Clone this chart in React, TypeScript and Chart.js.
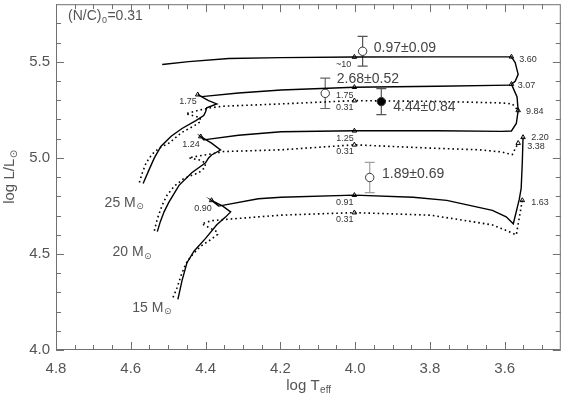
import React, { useEffect, useRef } from "react";
import { Chart, registerables } from "chart.js";
Chart.register(...registerables);

// ---- tracks (log Teff, log L/Lsun) ----
const topX = [4.516, 4.445, 4.338, 4.198, 4.002, 3.781, 3.609, 3.582, 3.572, 3.564, 3.572, 3.582];
const topY = [5.486, 5.501, 5.517, 5.522, 5.525, 5.526, 5.526, 5.526, 5.496, 5.435, 5.399, 5.384];

const s25X = [4.567, 4.551, 4.537, 4.519, 4.492, 4.463, 4.426, 4.405, 4.400, 4.397, 4.370, 4.392, 4.421, 4.410, 4.312, 4.198, 4.002, 3.781, 3.585];
const s25Y = [4.867, 4.939, 5.000, 5.061, 5.113, 5.153, 5.194, 5.220, 5.240, 5.261, 5.281, 5.298, 5.329, 5.319, 5.338, 5.353, 5.368, 5.373, 5.379];

const d25X = [4.577, 4.569, 4.559, 4.543, 4.524, 4.498, 4.463, 4.429, 4.413, 4.415, 4.453, 4.418, 4.386, 4.352, 4.198, 4.002, 3.781, 3.609, 3.580, 3.564];
const d25Y = [4.872, 4.923, 4.974, 5.020, 5.051, 5.077, 5.133, 5.169, 5.189, 5.210, 5.230, 5.248, 5.261, 5.269, 5.281, 5.298, 5.294, 5.286, 5.281, 5.247];

const s20X = [4.529, 4.521, 4.511, 4.498, 4.471, 4.437, 4.400, 4.392, 4.384, 4.360, 4.384, 4.413, 4.405, 4.312, 4.198, 4.002, 3.781, 3.609, 3.582, 3.569, 3.564, 3.567, 3.582];
const s20Y = [4.616, 4.668, 4.719, 4.770, 4.857, 4.923, 4.974, 5.000, 5.015, 5.041, 5.077, 5.111, 5.094, 5.118, 5.136, 5.141, 5.141, 5.138, 5.140, 5.179, 5.246, 5.317, 5.384];

const d20X = [4.537, 4.529, 4.516, 4.503, 4.484, 4.458, 4.418, 4.402, 4.400, 4.418, 4.445, 4.418, 4.386, 4.352, 4.198, 4.002, 3.800, 3.667, 3.609, 3.580, 3.564];
const d20Y = [4.621, 4.683, 4.754, 4.806, 4.852, 4.893, 4.923, 4.949, 4.974, 4.990, 5.000, 5.010, 5.020, 5.033, 5.042, 5.068, 5.051, 5.042, 5.031, 5.017, 5.077];

const s15X = [4.474, 4.463, 4.450, 4.431, 4.400, 4.370, 4.346, 4.333, 4.354, 4.384, 4.365, 4.259, 4.198, 4.002, 3.845, 3.755, 3.694, 3.633, 3.596, 3.577, 3.561, 3.556, 3.553, 3.551];
const s15Y = [4.263, 4.361, 4.453, 4.514, 4.581, 4.652, 4.693, 4.719, 4.749, 4.779, 4.749, 4.787, 4.795, 4.806, 4.795, 4.779, 4.753, 4.727, 4.693, 4.657, 4.785, 4.841, 4.974, 5.107];

const d15X = [4.487, 4.476, 4.466, 4.453, 4.439, 4.413, 4.386, 4.368, 4.370, 4.410, 4.384, 4.357, 4.259, 4.198, 4.002, 3.800, 3.712, 3.633, 3.588, 3.569, 3.553];
const d15Y = [4.274, 4.325, 4.386, 4.448, 4.488, 4.540, 4.575, 4.601, 4.616, 4.657, 4.673, 4.678, 4.693, 4.702, 4.715, 4.702, 4.676, 4.651, 4.616, 4.599, 4.779];

// ---- triangle markers ----
const triX = [4.002, 4.002, 4.002, 4.002, 4.002, 4.002, 4.002, 3.582, 3.582, 3.564, 3.551, 3.564, 3.553, 4.421, 4.413, 4.384];
const triY = [5.525, 5.368, 5.298, 5.141, 5.068, 4.806, 4.715, 5.526, 5.384, 5.247, 5.107, 5.077, 4.779, 5.329, 5.111, 4.779];

// ---- observed stars ----
const obsX = [3.980, 4.080, 3.930, 3.961];
const obsY = [5.555, 5.336, 5.293, 4.898];
const obsErr = [0.077, 0.079, 0.068, 0.079];
const obsFilled = [false, false, true, false];
const obsBarColor = ["#555", "#666", "#555", "#a0a0a0"];
const obsLabel = ["0.97\u00b10.09", "2.68\u00b10.52", "4.44\u00b10.84", "1.89\u00b10.69"];
const obsLabelX = [3.950, 4.049, 3.898, 3.928];
const obsLabelY = [5.570, 5.409, 5.264, 4.915];

// ---- small N/C labels ----
const midText = ["~10", "1.75", "0.31", "1.25", "0.31", "0.91", "0.31", "1.75", "1.24", "0.90"];
const midX = [4.031, 4.028, 4.028, 4.027, 4.027, 4.028, 4.028, 4.447, 4.439, 4.407];
const midY = [5.486, 5.327, 5.261, 5.100, 5.031, 4.770, 4.680, 5.292, 5.072, 4.739];
const endText = ["3.60", "3.07", "9.84", "2.20", "3.38", "1.63"];
const endX = [3.561, 3.565, 3.543, 3.529, 3.540, 3.529];
const endY = [5.514, 5.375, 5.243, 5.104, 5.061, 4.770];

// ---- mass labels ----
const massText = ["25 M", "20 M", "15 M"];
const massX = [4.670, 4.649, 4.596];
const massY = [4.765, 4.509, 4.220];

// ---- axes ----
const xMin = 3.45, xMax = 4.8, yMin = 4.0, yMax = 5.8;
const xMajor = [4.8, 4.6, 4.4, 4.2, 4.0, 3.8, 3.6];
const xMajorLabels = ["4.8", "4.6", "4.4", "4.2", "4.0", "3.8", "3.6"];
const xMinor = [4.75, 4.7, 4.65, 4.55, 4.5, 4.45, 4.35, 4.3, 4.25, 4.15, 4.1, 4.05, 3.95, 3.9, 3.85, 3.75, 3.7, 3.65, 3.55, 3.5];
const yMajor = [4.0, 4.5, 5.0, 5.5];
const yMajorLabels = ["4.0", "4.5", "5.0", "5.5"];
const yMinor = [4.1, 4.2, 4.3, 4.4, 4.6, 4.7, 4.8, 4.9, 5.1, 5.2, 5.3, 5.4, 5.6, 5.7];

const FONT = '"Liberation Sans", "DejaVu Sans", Arial, sans-serif';
const SYM = '"DejaVu Sans", "Liberation Sans", sans-serif';
const TEXT = "#555";
const AXIS = "#707070";

const pts = (xs: number[], ys: number[]) => xs.map((x, i) => ({ x, y: ys[i] }));

const lineDs = (xs: number[], ys: number[], dotted: boolean) => ({
  data: pts(xs, ys),
  showLine: true,
  borderColor: "#000",
  borderWidth: dotted ? 1.6 : 1.4,
  borderDash: dotted ? [1.6, 3] : [],
  pointRadius: 0,
  fill: false,
  tension: 0,
});

const decoPlugin = {
  id: "deco",
  beforeDatasetsDraw(chart: any) {
    const ctx = chart.ctx;
    const xs = chart.scales.x;
    const ys = chart.scales.y;
    ctx.save();
    ctx.lineWidth = 1.2;
    obsX.forEach((x, i) => {
      const px = xs.getPixelForValue(x);
      const y1 = ys.getPixelForValue(obsY[i] + obsErr[i]);
      const y2 = ys.getPixelForValue(obsY[i] - obsErr[i]);
      ctx.strokeStyle = obsBarColor[i];
      ctx.beginPath();
      ctx.moveTo(px, y1);
      ctx.lineTo(px, y2);
      ctx.moveTo(px - 5, y1);
      ctx.lineTo(px + 5, y1);
      ctx.moveTo(px - 5, y2);
      ctx.lineTo(px + 5, y2);
      ctx.stroke();
    });
    ctx.restore();
  },
  afterDatasetsDraw(chart: any) {
    const ctx = chart.ctx;
    const xs = chart.scales.x;
    const ys = chart.scales.y;
    const { left, right, top, bottom } = chart.chartArea;
    ctx.save();

    // observation labels
    ctx.fillStyle = "#444";
    ctx.font = `14px ${FONT}`;
    ctx.textAlign = "left";
    ctx.textBaseline = "middle";
    obsLabel.forEach((t, i) => {
      ctx.fillText(t, xs.getPixelForValue(obsLabelX[i]), ys.getPixelForValue(obsLabelY[i]));
    });

    // small labels
    ctx.font = `9px ${FONT}`;
    ctx.fillStyle = "#333";
    ctx.textAlign = "center";
    midText.forEach((t, i) => {
      ctx.fillText(t, xs.getPixelForValue(midX[i]), ys.getPixelForValue(midY[i]));
    });
    ctx.textAlign = "left";
    endText.forEach((t, i) => {
      ctx.fillText(t, xs.getPixelForValue(endX[i]), ys.getPixelForValue(endY[i]));
    });

    // mass labels
    ctx.fillStyle = TEXT;
    massText.forEach((t, i) => {
      const px = xs.getPixelForValue(massX[i]);
      const py = ys.getPixelForValue(massY[i]);
      ctx.font = `14px ${FONT}`;
      ctx.textAlign = "left";
      ctx.fillText(t, px, py);
      const w = ctx.measureText(t).width;
      ctx.font = `9px ${SYM}`;
      ctx.fillText("\u2299", px + w + 0.5, py + 4);
    });

    // (N/C)0 = 0.31
    ctx.font = `14px ${FONT}`;
    ctx.textAlign = "left";
    let tx = 68;
    const ty = 17.5;
    ctx.fillText("(N/C)", tx, ty);
    tx += ctx.measureText("(N/C)").width;
    ctx.font = `9px ${FONT}`;
    ctx.fillText("0", tx + 0.5, ty + 4);
    tx += ctx.measureText("0").width + 1;
    ctx.font = `14px ${FONT}`;
    ctx.fillText("=0.31", tx, ty);

    // frame
    ctx.strokeStyle = AXIS;
    ctx.lineWidth = 1;
    ctx.strokeRect(left + 0.5, top + 0.5, right - left - 1, bottom - top - 1);

    // ticks
    ctx.beginPath();
    const xt = (v: number, len: number) => {
      const px = Math.round(xs.getPixelForValue(v)) + 0.5;
      ctx.moveTo(px, bottom);
      ctx.lineTo(px, bottom - len);
      ctx.moveTo(px, top);
      ctx.lineTo(px, top + len);
    };
    const yt = (v: number, len: number) => {
      const py = Math.round(ys.getPixelForValue(v)) + 0.5;
      ctx.moveTo(left, py);
      ctx.lineTo(left + len, py);
      ctx.moveTo(right, py);
      ctx.lineTo(right - len, py);
    };
    xMajor.forEach((v) => xt(v, 8));
    xMinor.forEach((v) => xt(v, 5));
    yMajor.forEach((v) => yt(v, 8));
    yMinor.forEach((v) => yt(v, 5));
    ctx.stroke();

    // tick labels
    ctx.fillStyle = TEXT;
    ctx.font = `15px ${FONT}`;
    ctx.textAlign = "center";
    ctx.textBaseline = "middle";
    xMajor.forEach((v, i) => {
      ctx.fillText(xMajorLabels[i], xs.getPixelForValue(v), bottom + 19);
    });
    ctx.textAlign = "right";
    yMajor.forEach((v, i) => {
      ctx.fillText(yMajorLabels[i], left - 6, ys.getPixelForValue(v));
    });

    // x title: log T_eff
    {
      ctx.font = `15px ${FONT}`;
      const a = "log T";
      const wa = ctx.measureText(a).width;
      ctx.font = `10px ${FONT}`;
      const wb = ctx.measureText("eff").width;
      const cx = (left + right) / 2 - (wa + wb) / 2;
      const cy = bottom + 36;
      ctx.textAlign = "left";
      ctx.font = `15px ${FONT}`;
      ctx.fillText(a, cx, cy);
      ctx.font = `10px ${FONT}`;
      ctx.fillText("eff", cx + wa + 0.5, cy + 4);
    }

    // y title: log L/L_sun
    {
      ctx.save();
      ctx.translate(10, (top + bottom) / 2);
      ctx.rotate(-Math.PI / 2);
      ctx.font = `15px ${FONT}`;
      const a = "log L/L";
      const wa = ctx.measureText(a).width;
      ctx.font = `10px ${SYM}`;
      const wb = ctx.measureText("\u2299").width;
      const sx = -(wa + wb) / 2;
      ctx.textAlign = "left";
      ctx.textBaseline = "middle";
      ctx.font = `15px ${FONT}`;
      ctx.fillText(a, sx, 0);
      ctx.font = `10px ${SYM}`;
      ctx.fillText("\u2299", sx + wa + 0.5, 4);
      ctx.restore();
    }

    ctx.restore();
  },
};

export default function App() {
  const ref = useRef<HTMLCanvasElement | null>(null);
  useEffect(() => {
    if (!ref.current) return;
    const chart = new Chart(ref.current, {
      type: "scatter",
      data: {
        datasets: [
          lineDs(topX, topY, false),
          lineDs(s25X, s25Y, false),
          lineDs(d25X, d25Y, true),
          lineDs(s20X, s20Y, false),
          lineDs(d20X, d20Y, true),
          lineDs(s15X, s15Y, false),
          lineDs(d15X, d15Y, true),
          {
            data: pts(triX, triY),
            showLine: false,
            pointStyle: "triangle",
            pointRadius: 2.6,
            borderColor: "#000",
            backgroundColor: "#fff",
            borderWidth: 1,
          },
          {
            data: pts(obsX, obsY),
            showLine: false,
            pointStyle: "circle",
            pointRadius: 4.2,
            borderColor: "#333",
            backgroundColor: obsFilled.map((f) => (f ? "#000" : "#fff")),
            borderWidth: 1,
          },
        ] as any,
      },
      options: {
        animation: false,
        responsive: false,
        devicePixelRatio: 1,
        layout: { padding: { left: 56, right: 1, top: 0, bottom: 47 } },
        plugins: { legend: { display: false }, tooltip: { enabled: false } },
        scales: {
          x: { type: "linear", reverse: true, min: xMin, max: xMax, display: false },
          y: { type: "linear", min: yMin, max: yMax, display: false },
        },
      } as any,
      plugins: [decoPlugin],
    });
    return () => chart.destroy();
  }, []);
  return (
    <div style={{ position: "absolute", left: 0, top: -1, width: 566, height: 398 }}>
      <canvas ref={ref} width={566} height={398} style={{ width: 566, height: 398, display: "block" }} />
    </div>
  );
}
